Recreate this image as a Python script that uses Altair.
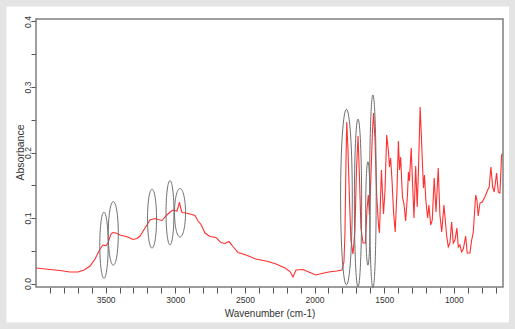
import altair as alt
import pandas as pd

# ---- spectrum ----
wavenumber = [
    4000, 3900, 3828, 3756, 3698, 3655, 3612, 3576, 3540, 3519,
    3497, 3483, 3462, 3447, 3426, 3397, 3354, 3325, 3304, 3275,
    3253, 3217, 3182, 3146, 3124, 3095, 3067, 3038, 3016, 2988,
    2977, 2970, 2963, 2952, 2923, 2894, 2858, 2837, 2815, 2787,
    2751, 2708, 2672, 2643, 2614, 2586, 2550, 2492, 2421, 2334,
    2277, 2212, 2176, 2155, 2133, 2083, 2033, 1990, 1940, 1889,
    1839, 1803, 1789, 1782, 1774, 1769, 1760, 1749, 1739, 1724,
    1710, 1699, 1688, 1678, 1667, 1652, 1635, 1624, 1614, 1606,
    1595, 1584, 1576, 1566, 1554, 1541, 1534, 1520, 1505, 1494,
    1482, 1469, 1462, 1454, 1444, 1433, 1421, 1408, 1398, 1390,
    1382, 1369, 1358, 1346, 1333, 1326, 1319, 1306, 1296, 1286,
    1274, 1263, 1254, 1242, 1232, 1225, 1218, 1211, 1200, 1188,
    1179, 1166, 1155, 1141, 1128, 1112, 1100, 1087, 1071, 1052,
    1040, 1028, 1016, 1004, 992, 978, 968, 956, 944, 932,
    915, 904, 884, 872, 861, 843, 834, 825, 812, 796,
    777, 757, 746, 734, 721, 710, 693, 681, 669, 657,
    647,
]
absorbance = [
    0.0237, 0.0214, 0.0198, 0.0176, 0.0176, 0.0206, 0.0267, 0.0374, 0.0527, 0.0588,
    0.0580, 0.0618, 0.0756, 0.0779, 0.0771, 0.0740, 0.0718, 0.0695, 0.0672, 0.0687,
    0.0725, 0.0847, 0.0969, 0.0992, 0.0977, 0.0962, 0.1031, 0.1092, 0.1122, 0.1107,
    0.1183, 0.1244, 0.1168, 0.1084, 0.1076, 0.1061, 0.1038, 0.0954, 0.0901, 0.0771,
    0.0718, 0.0702, 0.0626, 0.0611, 0.0641, 0.0565, 0.0473, 0.0435, 0.0374, 0.0336,
    0.0298, 0.0237, 0.0183, 0.0099, 0.0206, 0.0214, 0.0168, 0.0130, 0.0156, 0.0180,
    0.0191, 0.0206, 0.0328, 0.0740, 0.1885, 0.2466, 0.2038, 0.1275, 0.0664, 0.0450,
    0.0817, 0.1733, 0.2252, 0.1656, 0.0847, 0.0618, 0.0618, 0.1122, 0.1351, 0.1046,
    0.1656, 0.2344, 0.2603, 0.2191, 0.1351, 0.0893, 0.0771, 0.1733, 0.1061, 0.1427,
    0.2267, 0.2008, 0.1779, 0.1916, 0.1580, 0.1092, 0.0786, 0.1427, 0.2176, 0.1733,
    0.1931, 0.1321, 0.1214, 0.0954, 0.1351, 0.1702, 0.1565, 0.2069, 0.1504, 0.1000,
    0.1794, 0.1168, 0.1733, 0.2695, 0.2191, 0.1809, 0.1458, 0.1656, 0.1244, 0.1000,
    0.1198, 0.0893, 0.0969, 0.1611, 0.1092, 0.1763, 0.1046, 0.0786, 0.1198, 0.0740,
    0.0557, 0.0618, 0.0939, 0.0618, 0.0664, 0.0847, 0.0557, 0.0588, 0.0481, 0.0527,
    0.0725, 0.0466, 0.0466, 0.0664, 0.0771, 0.1351, 0.1275, 0.1031, 0.1229, 0.1244,
    0.1321, 0.1427, 0.1473, 0.1779, 0.1473, 0.1397, 0.1687, 0.1397, 0.1382, 0.1962,
    0.1992,
]

# ---- ellipse annotations around bands (data units) ----
ell_center_wn = [3512, 3445, 3167, 3038, 2966, 1771, 1688, 1617, 1581]
ell_low_abs = [0.008, 0.028, 0.054, 0.059, 0.071, -0.002, -0.005, 0.028, -0.007]
ell_high_abs = [0.109, 0.125, 0.144, 0.157, 0.145, 0.266, 0.251, 0.186, 0.288]
ell_width_wn = [60, 72, 65, 57, 79, 84, 52, 32, 47]

x_tick_values = list(range(3900, 600, -100))
y_tick_values = [0.0, 0.05, 0.1, 0.15, 0.2, 0.25, 0.3, 0.35, 0.4]

W, H = 467, 268
X_DOMAIN = [4000, 647]
Y_DOMAIN = [-0.0053, 0.4038]
FONT = "Liberation Sans"
TXT = "#333333"

n = min(len(wavenumber), len(absorbance))
spec = pd.DataFrame({"wn": wavenumber[:n], "abs": absorbance[:n]})

px_a = H / (Y_DOMAIN[1] - Y_DOMAIN[0])
px_w = W / (X_DOMAIN[0] - X_DOMAIN[1])
k = 0.5523
rows = []
for c, lo, hi, ww in zip(ell_center_wn, ell_low_abs, ell_high_abs, ell_width_wn):
    hpx = (hi - lo) * px_a
    wpx = ww * px_w
    r = wpx / hpx
    path = (f"M0,-1C{k*r:.4f},-1 {r:.4f},{-k:.4f} {r:.4f},0"
            f"C{r:.4f},{k:.4f} {k*r:.4f},1 0,1"
            f"C{-k*r:.4f},1 {-r:.4f},{k:.4f} {-r:.4f},0"
            f"C{-r:.4f},{-k:.4f} {-k*r:.4f},-1 0,-1Z")
    rows.append({"wn": c, "abs": (lo + hi) / 2, "shape": path, "size": hpx * hpx})
ell = pd.DataFrame(rows)

xscale = alt.Scale(domain=X_DOMAIN, nice=False, zero=False)
yscale = alt.Scale(domain=Y_DOMAIN, nice=False, zero=False)

one = pd.DataFrame({"d": [0]})

line = alt.Chart(spec).mark_line(color="#ff3030", strokeWidth=1.1, clip=True).encode(
    x=alt.X("wn:Q", scale=xscale, axis=alt.Axis(
        values=x_tick_values, tickCount=100,
        labelExpr="datum.value % 500 == 0 ? datum.label : ''",
        format="d", tickSize=6, tickColor="#555555", tickWidth=1,
        domain=False, grid=False, labelFontSize=8.5, labelColor=TXT,
        labelPadding=2, labelFlush=False, labelOverlap=False,
        title="Wavenumber (cm-1)", titleFontSize=10, titleFontWeight="normal",
        titleColor=TXT, titleY=29, titleBaseline="alphabetic")),
    y=alt.Y("abs:Q", scale=yscale, axis=alt.Axis(
        values=y_tick_values, tickCount=100,
        labelExpr="round(datum.value*100) % 10 == 0 ? format(datum.value, '.1f') : ''",
        labelAngle=-90, labelAlign="center", labelBaseline="alphabetic",
        labelPadding=1, tickSize=5, tickColor="#555555", tickWidth=1,
        domain=False, grid=False, labelFontSize=8.5, labelColor=TXT,
        labelFlush=False, labelOverlap=False,
        title="Absorbance", titleFontSize=10.5, titleFontWeight="normal",
        titleColor=TXT, titleAngle=-90, titleX=-13, titleY=133,
        titleAlign="center", titleBaseline="alphabetic")),
    order=alt.Order("wn:Q", sort="descending"),
)

ellipses = alt.Chart(ell).mark_point(filled=False, stroke="#6f6f6f", strokeWidth=1, opacity=1).encode(
    x=alt.X("wn:Q", scale=xscale),
    y=alt.Y("abs:Q", scale=yscale),
    shape=alt.Shape("shape:N", scale=None, legend=None),
    size=alt.Size("size:Q", scale=None, legend=None),
)

frame = alt.Chart(one).mark_rect(fillOpacity=0, stroke="#7d7d7d", strokeWidth=1.5).encode(
    x=alt.value(0), x2=alt.value(W), y=alt.value(0), y2=alt.value(H)
)

# light grey border of the figure (outside the axes)
border = alt.Chart(one).mark_rect(fillOpacity=0, stroke="#e4e4e4", strokeWidth=6.5).encode(
    x=alt.value(-32.75), x2=alt.value(476.25), y=alt.value(-15.75), y2=alt.value(306.75)
)

chart = alt.layer(line, ellipses, frame, border).properties(
    width=W, height=H,
    padding={"left": 36, "top": 19, "right": 12, "bottom": 42},
    autosize=alt.AutoSizeParams(type="none"),
).configure(background="white", font=FONT).configure_view(stroke=None)

chart.save("out.html", embed_options={"renderer": "svg", "actions": False})
